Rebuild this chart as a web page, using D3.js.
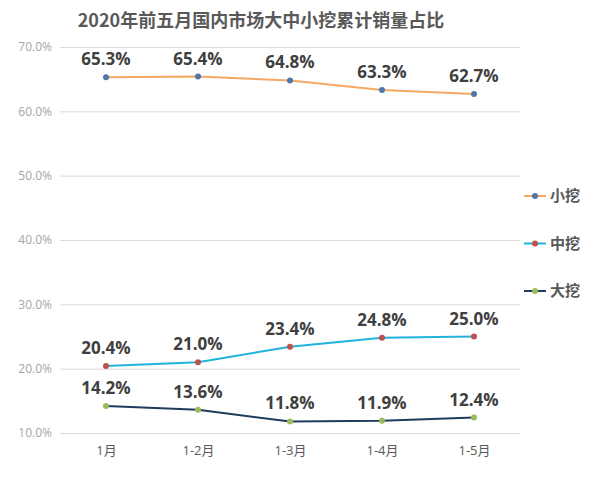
<!DOCTYPE html>
<html>
<head>
<meta charset="utf-8">
<script src="https://cdn.jsdelivr.net/npm/d3@7"></script>
<style>
  body { margin: 0; background: #fff; }
  text { font-family: 'Open Sans', 'Noto Sans CJK SC', sans-serif; }
</style>
</head>
<body>
<div id="chart"></div>
<script>
const categories = ['1月', '1-2月', '1-3月', '1-4月', '1-5月'];
const small = [65.3, 65.4, 64.8, 63.3, 62.7];
const medium = [20.4, 21.0, 23.4, 24.8, 25.0];
const large = [14.2, 13.6, 11.8, 11.9, 12.4];
const yTicks = [10, 20, 30, 40, 50, 60, 70];

const series = [
  { name: '小挖', values: small, line: '#f4a862', dot: '#4f77aa' },
  { name: '中挖', values: medium, line: '#22b3dd', dot: '#c0504d' },
  { name: '大挖', values: large, line: '#1f3b5e', dot: '#9bbb59' }
];

const width = 600, height = 477;
const margin = { left: 60, right: 80, top: 47, bottom: 44 };

const svg = d3.select('#chart')
  .append('svg')
  .attr('width', width)
  .attr('height', height);

const x = d3.scalePoint()
  .domain(categories)
  .range([margin.left, width - margin.right])
  .padding(0.5);
const y = d3.scaleLinear()
  .domain([10, 70])
  .range([height - margin.bottom, margin.top]);

// title
svg.append('text')
  .attr('x', 261)
  .attr('y', 27)
  .attr('text-anchor', 'middle')
  .attr('font-size', 18)
  .attr('font-weight', 'bold')
  .attr('fill', '#595959')
  .style('font-family', "'Noto Sans CJK SC', sans-serif")
  .text('2020年前五月国内市场大中小挖累计销量占比');

// grid + y labels
const yAxis = d3.axisLeft(y)
  .tickValues(yTicks)
  .tickSize(-(width - margin.left - margin.right))
  .tickPadding(8)
  .tickFormat(d => d.toFixed(1) + '%');

const gy = svg.append('g')
  .attr('transform', 'translate(' + margin.left + ',0)')
  .call(yAxis);
gy.select('.domain').remove();
gy.selectAll('line').attr('stroke', '#d9d9d9');
gy.selectAll('text').attr('fill', '#a6a6a6').attr('font-size', 12);

// x labels
const xAxis = d3.axisBottom(x).tickSize(0).tickPadding(13);
const gx = svg.append('g')
  .attr('transform', 'translate(0,' + (height - margin.bottom) + ')')
  .call(xAxis);
gx.select('.domain').remove();
gx.selectAll('text')
  .attr('fill', '#595959')
  .attr('font-size', 13)
  .style('font-family', "'Open Sans', 'Noto Sans CJK SC', sans-serif");

const line = d3.line()
  .x((d, i) => x(categories[i]))
  .y(d => y(d));

const gs = svg.selectAll('g.series')
  .data(series)
  .enter()
  .append('g')
  .classed('series', true);

gs.append('path')
  .attr('d', s => line(s.values))
  .attr('fill', 'none')
  .attr('stroke', s => s.line)
  .attr('stroke-width', 2);

gs.selectAll('circle')
  .data(s => s.values.map(v => ({ v, s })))
  .enter()
  .append('circle')
  .attr('cx', (d, i) => x(categories[i]))
  .attr('cy', d => y(d.v))
  .attr('r', 3)
  .attr('fill', d => d.s.dot);

gs.selectAll('text.val')
  .data(s => s.values)
  .enter()
  .append('text')
  .classed('val', true)
  .attr('x', (d, i) => x(categories[i]))
  .attr('y', d => y(d) - 12)
  .attr('text-anchor', 'middle')
  .attr('font-size', 17)
  .attr('font-weight', 'bold')
  .attr('fill', '#404040')
  .text(d => d.toFixed(1) + '%');

// legend
const legend = svg.selectAll('g.legend')
  .data(series)
  .enter()
  .append('g')
  .classed('legend', true)
  .attr('transform', (s, i) => 'translate(524,' + (196 + i * 47.5) + ')');

legend.append('line')
  .attr('x1', 0).attr('x2', 22)
  .attr('stroke', s => s.line)
  .attr('stroke-width', 2);
legend.append('circle')
  .attr('cx', 11)
  .attr('r', 3)
  .attr('fill', s => s.dot);
legend.append('text')
  .attr('x', 26)
  .attr('dy', '0.35em')
  .attr('font-size', 15)
  .attr('font-weight', 'bold')
  .attr('fill', '#595959')
  .style('font-family', "'Noto Sans CJK SC', sans-serif")
  .text(s => s.name);
</script>
</body>
</html>
